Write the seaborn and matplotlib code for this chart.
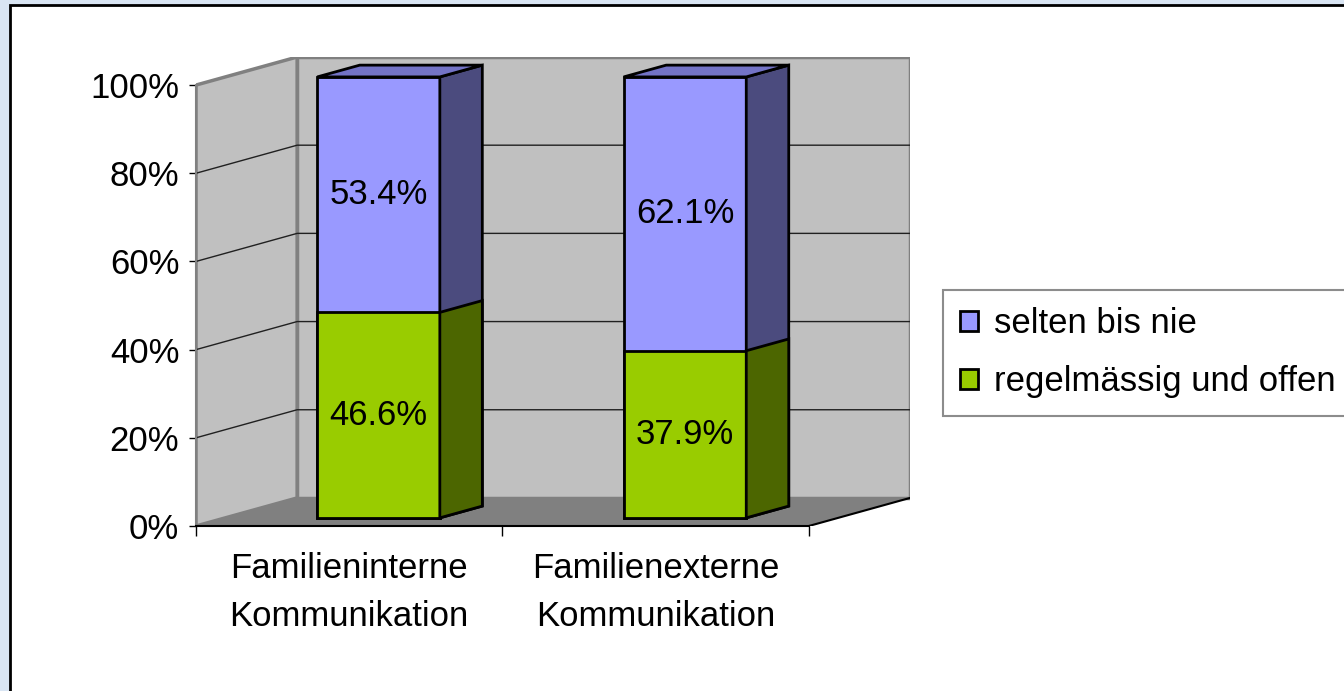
"""3D-style stacked percentage bars: communication frequency."""

import matplotlib.pyplot as plt
import seaborn as sns
from matplotlib.patches import Patch, Polygon, Rectangle

categories = ["Familieninterne\nKommunikation", "Familienexterne\nKommunikation"]
regelmaessig = [46.6, 37.9]
selten = [53.4, 62.1]
series_labels = ["selten bis nie", "regelmässig und offen"]
y_ticks = [0, 20, 40, 60, 80, 100]

BLUE_FRONT, BLUE_SIDE, BLUE_TOP = "#9999FF", "#4B4B7E", "#7373C6"
GREEN_FRONT, GREEN_SIDE = "#99CC00", "#4C6600"
WALL, FLOOR = "#C0C0C0", "#808080"
FS = 25

# oblique depth of the plot box (category units / percent units)
DEPTH_X = 101 / 306
DEPTH_Y = 28 / 4.4
FRONT = 0.29   # bar front face position within depth
BAR_D = 0.42   # bar depth fraction

plt.rcParams["font.family"] = ["Liberation Sans", "DejaVu Sans"]

fig = plt.figure(figsize=(13.44, 6.91), dpi=100, facecolor="#D9E5F3")
fig.patches.append(Rectangle((10 / 1344, -0.1), 1.2, (691 - 5) / 691 + 0.1,
                             transform=fig.transFigure, facecolor="white",
                             edgecolor="black", lw=2, zorder=-5))

ax = fig.add_axes([196 / 1344, (691 - 526) / 691, (910 - 196) / 1344, (526 - 57) / 691])
ax.set_facecolor("none")

x_lo, x_hi = -0.5, len(categories) - 0.5
top = y_ticks[-1]

# walls and floor
ax.add_patch(Polygon([(x_lo + DEPTH_X, DEPTH_Y), (x_hi + DEPTH_X, DEPTH_Y),
                      (x_hi + DEPTH_X, top + DEPTH_Y), (x_lo + DEPTH_X, top + DEPTH_Y)],
                     facecolor=WALL, edgecolor="#808080", lw=2.5, zorder=0.5))
ax.add_patch(Polygon([(x_lo, 0), (x_lo + DEPTH_X, DEPTH_Y),
                      (x_lo + DEPTH_X, top + DEPTH_Y), (x_lo, top)],
                     facecolor=WALL, edgecolor="#808080", lw=2.5, zorder=0.5))
ax.add_patch(Polygon([(x_lo, 0), (x_hi, 0), (x_hi + DEPTH_X, DEPTH_Y), (x_lo + DEPTH_X, DEPTH_Y)],
                     facecolor=FLOOR, edgecolor="none", zorder=0.6))
ax.plot([x_hi, x_hi + DEPTH_X], [0, DEPTH_Y], color="black", lw=1.5, zorder=0.7)

for t in y_ticks[1:-1]:
    ax.plot([x_lo, x_lo + DEPTH_X, x_hi + DEPTH_X], [t, t + DEPTH_Y, t + DEPTH_Y],
            color="#202020", lw=1, zorder=0.6)

totals = [g + s for g, s in zip(regelmaessig, selten)]
dx0, dy0 = FRONT * DEPTH_X, FRONT * DEPTH_Y
ddx, ddy = BAR_D * DEPTH_X, BAR_D * DEPTH_Y


def draw_layer(values, front, side, top_color, z):
    n_before = len(ax.patches)
    sns.barplot(x=categories, y=values, color=front, width=0.4, edgecolor="black",
                linewidth=2, errorbar=None, saturation=1, zorder=z, ax=ax)
    for p in ax.patches[n_before:]:
        p.set_x(p.get_x() + dx0)
        p.set_y(p.get_y() + dy0)
        x0, w = p.get_x(), p.get_width()
        y0, y1 = p.get_y(), p.get_y() + p.get_height()
        x1 = x0 + w
        ax.add_patch(Polygon([(x1, y0), (x1 + ddx, y0 + ddy), (x1 + ddx, y1 + ddy), (x1, y1)],
                             facecolor=side, edgecolor="black", lw=2, zorder=z))
        if top_color:
            ax.add_patch(Polygon([(x0, y1), (x1, y1), (x1 + ddx, y1 + ddy), (x0 + ddx, y1 + ddy)],
                                 facecolor=top_color, edgecolor="black", lw=2, zorder=z))


draw_layer(totals, BLUE_FRONT, BLUE_SIDE, BLUE_TOP, 2)
draw_layer(regelmaessig, GREEN_FRONT, GREEN_SIDE, None, 3)

for i, (g, s) in enumerate(zip(regelmaessig, selten)):
    ax.text(i + dx0, dy0 + g / 2, f"{g:.1f}%", ha="center", va="center", fontsize=FS, zorder=5)
    ax.text(i + dx0, dy0 + g + s / 2, f"{s:.1f}%", ha="center", va="center", fontsize=FS, zorder=5)

ax.set_xlim(x_lo, x_hi + DEPTH_X)
ax.set_ylim(0, top + DEPTH_Y)

for side_name in ["top", "right"]:
    ax.spines[side_name].set_visible(False)
ax.spines["left"].set_bounds(0, top)
ax.spines["left"].set_color("#808080")
ax.spines["left"].set_linewidth(1.5)
ax.spines["bottom"].set_bounds(x_lo, x_hi)
ax.spines["bottom"].set_color("black")
ax.spines["bottom"].set_linewidth(1.5)

ax.set_yticks(y_ticks)
ax.set_yticklabels([f"{t}%" for t in y_ticks])
ax.tick_params(axis="y", length=5, width=1, pad=7, labelsize=FS, color="black")

ax.set_xticks([x_lo + k for k in range(len(categories) + 1)])
ax.set_xticklabels([])
ax.set_xticks(range(len(categories)), minor=True)
ax.set_xticklabels(categories, minor=True, linespacing=1.55)
ax.tick_params(axis="x", which="major", length=7, width=1, color="black")
ax.tick_params(axis="x", which="minor", length=0, pad=19, labelsize=FS)
ax.set_xlabel("")
ax.set_ylabel("")

handles = [Patch(facecolor=BLUE_FRONT, edgecolor="black", lw=2),
           Patch(facecolor=GREEN_FRONT, edgecolor="black", lw=2)]
leg = fig.legend(handles, series_labels, loc="upper left",
                 bbox_to_anchor=(943 / 1344, (691 - 290) / 691, 0.4, 0), mode="expand",
                 fontsize=FS, handlelength=0.52, handleheight=0.52, handletextpad=0.45,
                 labelspacing=0.72, borderpad=0.5, borderaxespad=0, fancybox=False)
leg.get_frame().set_edgecolor("#707070")
leg.get_frame().set_linewidth(1.5)

fig.savefig("out.png", dpi=100, facecolor=fig.get_facecolor())
